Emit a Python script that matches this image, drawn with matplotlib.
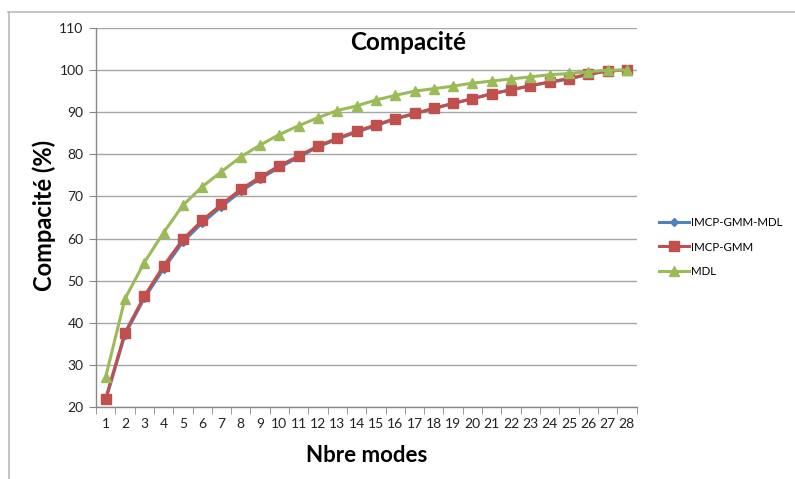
import matplotlib
matplotlib.use("Agg")
import matplotlib.pyplot as plt
from matplotlib.lines import Line2D
from matplotlib.ticker import FixedLocator

modes = list(range(1, 29))
imcp_gmm_mdl = [21.6, 37.2, 45.8, 52.8, 59.2, 63.7, 67.6, 71.2, 74.2, 76.9, 79.3, 81.8, 83.6, 85.3,
                86.8, 88.4, 89.6, 90.9, 92.1, 93.2, 94.4, 95.3, 96.3, 97.1, 97.9, 99.0, 99.8, 100.0]
imcp_gmm = [22.0, 37.6, 46.3, 53.5, 59.8, 64.3, 68.1, 71.7, 74.6, 77.3, 79.6, 82.0, 83.8, 85.5,
            87.0, 88.5, 89.7, 90.9, 92.1, 93.2, 94.4, 95.3, 96.3, 97.2, 98.0, 99.0, 99.8, 100.0]
mdl = [27.1, 45.7, 54.3, 61.4, 67.9, 72.3, 75.9, 79.4, 82.2, 84.7, 86.8, 88.7, 90.4, 91.5,
       92.9, 94.0, 95.0, 95.6, 96.2, 96.9, 97.4, 97.9, 98.4, 98.9, 99.2, 99.6, 100.0, 100.0]
series_names = ["IMCP-GMM-MDL", "IMCP-GMM", "MDL"]
yticks = [20, 30, 40, 50, 60, 70, 80, 90, 100, 110]

font = "Lato"
fig = plt.figure(figsize=(7.95, 4.79), dpi=100)
ax = fig.add_axes([96/795, 1-407/479, (636.5-96)/795, (407-28)/479])

ax.plot(modes, imcp_gmm_mdl, color="#4F81BD", lw=2.2, marker="D", ms=4.5, zorder=3)
ax.plot(modes, imcp_gmm, color="#C0504D", lw=2.2, marker="s", ms=7.5, zorder=4)
ax.plot(modes, mdl, color="#9BBB59", lw=2.2, marker="^", ms=7.5, zorder=5)

ax.set_xlim(0.5, 28.5)
ax.set_ylim(20, 110)
ax.set_yticks(yticks)
ax.set_yticklabels([str(v) for v in yticks], fontsize=10, family=font, color="#222222")
ax.set_xticks(modes)
ax.set_xticklabels([str(m) for m in modes], fontsize=10, family=font, color="#222222")
ax.xaxis.set_minor_locator(FixedLocator([m + 0.5 for m in range(0, 29)]))
ax.tick_params(axis="x", which="major", length=0, pad=8)
ax.tick_params(axis="x", which="minor", length=5, color="#888888", direction="out")
ax.tick_params(axis="y", length=5, color="#888888", direction="out", pad=4)
ax.grid(axis="y", color="#A6A6A6", lw=1.0, zorder=0)
for s in ["top", "right"]:
    ax.spines[s].set_visible(False)
for s in ["left", "bottom"]:
    ax.spines[s].set_color("#888888")
    ax.spines[s].set_linewidth(1.0)

fig.text(408/795, 1-42/479, "Compacité", ha="center", va="center", fontsize=17.5,
         fontweight="bold", family=font)
fig.text(367/795, 1-455/479, "Nbre modes", ha="center", va="center", fontsize=16,
         fontweight="bold", family=font)
fig.text(44/795, 1-215/479, "Compacité (%)", ha="center", va="center", rotation=90,
         fontsize=17, fontweight="bold", family=font)

handles = [Line2D([], [], color="#4F81BD", lw=2.2, marker="D", ms=4.5),
           Line2D([], [], color="#C0504D", lw=2.2, marker="s", ms=7.5),
           Line2D([], [], color="#9BBB59", lw=2.2, marker="^", ms=7.5)]
fig.legend(handles, series_names, loc="center left", bbox_to_anchor=(659/795, 1-247/479),
           frameon=False, prop={"family": font, "size": 8.3}, handlelength=2.6,
           handletextpad=0.15, labelspacing=1.2, borderpad=0, borderaxespad=0)

# outer chart border
fig.add_artist(Line2D([8/795, 1], [1-12/479, 1-12/479], color="#BBBBBB", lw=1.2))
fig.add_artist(Line2D([9/795, 9/795], [0, 1-12/479], color="#BBBBBB", lw=1.2))

fig.savefig("out.png", dpi=100)
